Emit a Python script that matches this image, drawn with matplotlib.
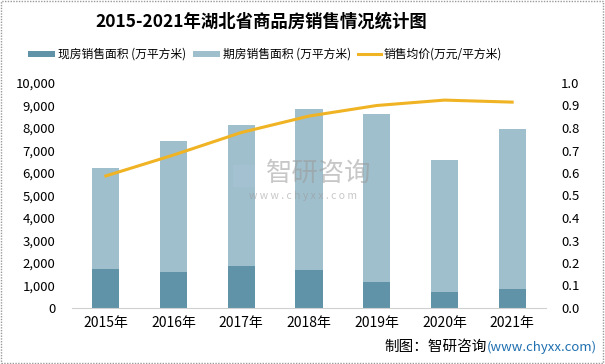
import matplotlib
matplotlib.use("Agg")
import matplotlib.pyplot as plt
from matplotlib.patches import Rectangle
from matplotlib.lines import Line2D

plt.rcParams['font.family'] = ['Noto Sans CJK SC', 'DejaVu Sans']

years = ["2015年", "2016年", "2017年", "2018年", "2019年", "2020年", "2021年"]
totals = [6220, 7420, 8130, 8840, 8620, 6580, 7960]
spot = [1730, 1600, 1870, 1690, 1160, 710, 840]
future = [t - s for t, s in zip(totals, spot)]
price = [0.587, 0.68, 0.78, 0.853, 0.90, 0.924, 0.915]
labels = ["现房销售面积 (万平方米)", "期房销售面积 (万平方米)", "销售均价(万元/平方米)"]

c_dark = "#6093a8"
c_light = "#a0bfcc"
c_line = "#f0b323"

fig = plt.figure(figsize=(6.05, 3.64), dpi=100)
W, H = 605, 364
def fx(px): return px / W
def fy(py): return 1 - py / H

ax = fig.add_axes([fx(72), fy(308), (546 - 72) / W, (308 - 83) / H])
x = list(range(len(years)))
ax.bar(x, spot, width=0.4, color=c_dark, zorder=2)
ax.bar(x, future, width=0.4, bottom=spot, color=c_light, zorder=2)
ax.set_ylim(0, 10000)
ax.set_xlim(-0.5, len(years) - 0.5)
ax.set_yticks(range(0, 10001, 1000))
ax.set_yticklabels([f"{v:,}" for v in range(0, 10001, 1000)], fontsize=9.5)
ax.set_xticks(x)
ax.set_xticklabels(years, fontsize=10)
for s in ["top", "right", "left"]:
    ax.spines[s].set_visible(False)
ax.spines["bottom"].set_color("#d0d0d0")
ax.tick_params(axis="both", length=0)
ax.tick_params(axis="y", pad=12)
ax.tick_params(axis="x", pad=6)

ax2 = ax.twinx()
ax2.plot(x, price, color=c_line, lw=2.2, zorder=3)
ax2.set_ylim(0, 1.0)
ax2.set_yticks([i / 10 for i in range(11)])
ax2.set_yticklabels([f"{i/10:.1f}" for i in range(11)], fontsize=9.5)
for s in ["top", "right", "left", "bottom"]:
    ax2.spines[s].set_visible(False)
ax2.tick_params(axis="y", length=0, pad=11)

# watermark
fig.add_artist(Rectangle((fx(233), fy(187)), 22 / W, 22 / H, transform=fig.transFigure,
                         fc="#a9c4d8", ec="none", alpha=0.45))
fig.text(fx(319), fy(173), "智研咨询", fontsize=19, color="#9a9a9a", alpha=0.55,
         ha="center", va="center")
fig.text(fx(303), fy(196), "w w w . c h y x x . c o m", fontsize=7.5, color="#9a9a9a",
         alpha=0.55, ha="center", va="center")

fig.text(fx(261), fy(22), "2015-2021年湖北省商品房销售情况统计图", fontsize=12.5,
         fontweight="bold", ha="center", va="center")

# legend
ly = 54
fig.add_artist(Rectangle((fx(28), fy(ly + 3)), 27 / W, 6 / H, transform=fig.transFigure,
                         fc=c_dark, ec="none"))
fig.text(fx(58), fy(ly), labels[0], fontsize=8.5, ha="left", va="center")
fig.add_artist(Rectangle((fx(193), fy(ly + 3)), 27 / W, 6 / H, transform=fig.transFigure,
                         fc=c_light, ec="none"))
fig.text(fx(223), fy(ly), labels[1], fontsize=8.5, ha="left", va="center")
fig.add_artist(Line2D([fx(358), fx(381)], [fy(ly), fy(ly)], transform=fig.transFigure,
                      color=c_line, lw=2.2))
fig.text(fx(384), fy(ly), labels[2], fontsize=8.5, ha="left", va="center")

fig.text(fx(487), fy(347), "制图：智研咨询", fontsize=10.5, ha="right", va="center")
fig.text(fx(487), fy(347), "(www.chyxx.com)", fontsize=9.5, color="#1f6fb0",
         ha="left", va="center")

fig.add_artist(Rectangle((0.002, 0.003), 0.995, 0.994, transform=fig.transFigure,
                         fill=False, ec="#9a9a9a", lw=1, ls=(0, (1, 1))))

fig.savefig("out.png", dpi=100)
